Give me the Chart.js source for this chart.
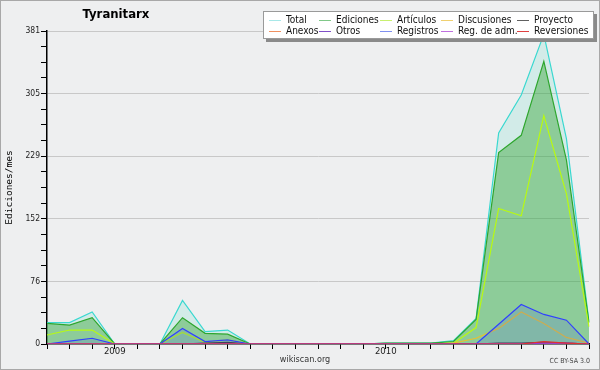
<!DOCTYPE html>
<html><head><meta charset="utf-8">
<script src="https://cdn.jsdelivr.net/npm/chart.js@4/dist/chart.umd.min.js"></script>
<style>
html,body{margin:0;padding:0;background:#fff}
#wrap{position:relative;width:600px;height:370px;background:#eeeff0;overflow:hidden;font-family:"DejaVu Sans Condensed","Liberation Sans",sans-serif}
#c{position:absolute;left:0;top:0}
#frame{position:absolute;left:0;top:0;width:600px;height:370px;box-sizing:border-box;border:1px solid #a8a8a8;pointer-events:none}
#title{position:absolute;left:56px;width:120px;top:5px;text-align:center;font-weight:bold;font-size:13px;color:#000;line-height:18px}
#legend{position:absolute;left:263px;top:11px;width:329px;height:26px;background:#fff;border:1px solid #9a9a9a;box-shadow:3px 3px 0 #8a8a8a}
.li{position:absolute;font-size:10px;line-height:11px;color:#111;white-space:nowrap}
.sw{position:absolute;height:1px}
#site{position:absolute;left:255px;width:100px;top:354px;text-align:center;font-size:9px;color:#333}
#cc{position:absolute;right:10px;top:357px;font-size:7px;color:#444}
</style></head>
<body>
<div id="wrap">
<canvas id="c" width="600" height="370"></canvas>
<div id="title">Tyranitarx</div>
<div id="legend"></div>
<div id="site">wikiscan.org</div>
<div id="cc">CC BY-SA 3.0</div>
<div id="frame"></div>
</div>
<script>
// ---- data ----
const months = ['2008-10','2008-11','2008-12','2009-01','2009-02','2009-03','2009-04','2009-05','2009-06','2009-07','2009-08','2009-09','2009-10','2009-11','2009-12','2010-01','2010-02','2010-03','2010-04','2010-05','2010-06','2010-07','2010-08','2010-09','2010-10'];
const seriesNames = ['Total','Ediciones','Artículos','Discusiones','Proyecto','Anexos','Otros','Registros','Reg. de adm.','Reversiones'];
const total       = [26,26,39,0,0,0,53,15,17,0,0,0,0,0,0,1,1,1,4,31,257,303,377,250,27];
const ediciones   = [25,23,32,0,0,0,32,13,12,0,0,0,0,0,0,1,1,1,3,30,233,254,344,224,26];
const articulos   = [11,17,17,0,0,0,14,2,5,0,0,0,0,0,0,0,0,0,1,20,165,156,278,183,21];
const discusiones = [0,0,0,0,0,0,0,0,0,0,0,0,0,0,0,0,0,0,1,7,19,39,25,8,1];
const proyecto    = [0,0,0,0,0,0,0,1,2,0,0,0,0,0,0,0,0,0,0,0,1,1,2,1,0];
const anexos      = [0,0,0,0,0,0,0,0,0,0,0,0,0,0,0,0,0,0,0,0,0,0,1,1,0];
const otros       = [0,0,0,0,0,0,0,0,0,0,0,0,0,0,0,0,0,0,0,0,0,0,1,1,0];
const registros   = [0,3.6,7,0,0,0,19,3,5,0,0,0,0,0,0,0,0,0,0,0,24,48,36,29,0];
const regAdm      = [0,0,0,0,0,0,0,0,0,0,0,0,0,0,0,0,0,0,0,0,0,0,0,0,0];
const reversiones = [0,0,0,0,0,0,0,0,0,0,0,0,0,0,0,0,0,0,0,0,0,0,3,1,0];
const seriesValues = [total,ediciones,articulos,discusiones,proyecto,anexos,otros,registros,regAdm,reversiones];
const yMax = 381;
const yMajorCount = 5, yMinorPerMajor = 4;

// ---- styles ----
const lineColors = ['#3ad8d0','#2ea62e','#b8fa10','#e6c030','#404040','#f07838','#7030c0','#3040ff','#c040e0','#e03030'];
const legendColors = ['#a8e8e8','#80c888','#c8f070','#f0d070','#606060','#f09060','#8050c8','#8090f0','#c070e0','#e04040'];
const fillColors = ['rgba(70,215,190,0.16)','rgba(55,165,55,0.45)',null,null,null,null,null,'rgba(60,60,255,0.15)',null,null];
const FONT = '"DejaVu Sans Condensed","Liberation Sans",sans-serif';

const yTicks = [];
for (let k = 0; k <= yMajorCount * yMinorPerMajor; k++) yTicks.push(yMax * k / (yMajorCount * yMinorPerMajor));

const chart = new Chart(document.getElementById('c'), {
  type: 'line',
  data: {
    labels: months,
    datasets: seriesNames.map((n, i) => ({
      label: n,
      data: seriesValues[i],
      borderColor: lineColors[i],
      backgroundColor: fillColors[i] || 'transparent',
      fill: fillColors[i] ? 'origin' : false,
      borderWidth: 1.2,
      pointRadius: 0,
      tension: 0,
      order: seriesNames.length - i
    }))
  },
  options: {
    responsive: false,
    animation: false,
    layout: { padding: { left: 0, right: 11, top: 31, bottom: 0 } },
    plugins: { legend: { display: false }, tooltip: { enabled: false }, title: { display: false } },
    scales: {
      x: {
        grid: { display: true, drawOnChartArea: false, drawTicks: true, tickLength: 5, tickColor: '#000', tickWidth: 1 },
        border: { display: true, color: '#000', width: 1.5 },
        ticks: {
          autoSkip: false, maxRotation: 0, minRotation: 0, padding: -3,
          font: { family: FONT, size: 9.5 }, color: '#222',
          callback: (v, i) => months[i].endsWith('-01') ? months[i].slice(0, 4) : ''
        },
        afterFit: s => { s.height = 26; }
      },
      y: {
        min: 0, max: yMax,
        afterBuildTicks: s => { s.ticks = yTicks.map(v => ({ value: v })); },
        ticks: {
          padding: 1, font: { family: FONT, size: 8.5 }, color: '#222',
          callback: (v, i) => (i % yMinorPerMajor === 0) ? String(Math.round(v)) : ''
        },
        grid: {
          color: c => (c.index % yMinorPerMajor === 0 && c.index > 0) ? '#c8c8c8' : 'transparent',
          tickColor: '#000', tickLength: 6, tickWidth: 1, lineWidth: 1
        },
        border: { display: true, color: '#000', width: 1.5 },
        title: { display: true, text: 'Ediciones/mes', font: { family: '"DejaVu Sans Mono",monospace', size: 9.5 }, color: '#000', padding: { top: 4, bottom: 2 } },
        afterFit: s => { s.width = 47; }
      }
    }
  }
});

// ---- HTML legend built from the chart's datasets ----
const legend = document.getElementById('legend');
const colText = [22, 72, 133, 194, 270];
const rowY = [2, 13];
chart.data.datasets.forEach((ds, i) => {
  const col = i % 5, row = Math.floor(i / 5);
  const sw = document.createElement('div');
  sw.className = 'sw';
  sw.style.left = (colText[col] - 17) + 'px';
  sw.style.width = '12px';
  sw.style.top = (rowY[row] + 6) + 'px';
  sw.style.background = legendColors[i];
  legend.appendChild(sw);
  const t = document.createElement('div');
  t.className = 'li';
  t.style.left = colText[col] + 'px';
  t.style.top = rowY[row] + 'px';
  t.textContent = ds.label;
  legend.appendChild(t);
});
</script>
</body></html>
